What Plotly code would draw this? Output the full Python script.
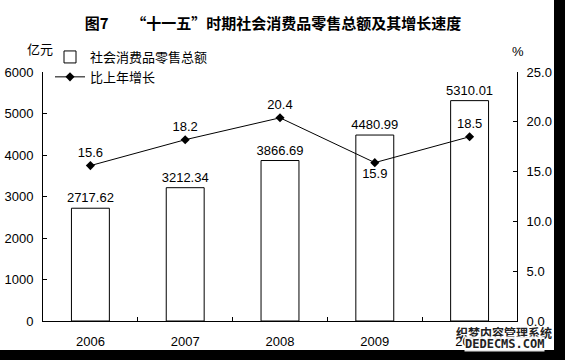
import plotly.graph_objects as go

years = ["2006", "2007", "2008", "2009", "2010"]
sales = [2717.62, 3212.34, 3866.69, 4480.99, 5310.01]
growth = [15.6, 18.2, 20.4, 15.9, 18.5]
growth_pos = ["top center", "top center", "top center", "bottom center", "top center"]

NUM_FONT = "Liberation Sans, Arial, sans-serif"
CJK_FONT = "Noto Sans CJK SC, sans-serif"

W, H = 565, 360
L, R, T, B = 43, 48, 72, 39
pw, ph = W - L - R, H - T - B

def px(x):
    return (x - L) / pw

def py(y):
    return (H - B - y) / ph

fig = go.Figure()
fig.add_trace(go.Bar(
    x=years, y=sales, name="社会消费品零售总额",
    marker=dict(color="white", line=dict(color="black", width=1)),
    width=0.4,
    text=[f"{v:.2f}" for v in sales], textposition="outside",
    textfont=dict(family=NUM_FONT, size=13, color="black"),
    cliponaxis=False, constraintext="none", textangle=0,
))
fig.add_trace(go.Scatter(
    x=years, y=growth, name="比上年增长", yaxis="y2",
    mode="lines+markers+text",
    line=dict(color="black", width=1),
    marker=dict(symbol="diamond", size=7, color="black"),
    text=[f"{v:.1f}" for v in growth], textposition=growth_pos,
    textfont=dict(family=NUM_FONT, size=13, color="black"),
    cliponaxis=False,
))

axis_common = dict(showline=True, linecolor="black", linewidth=1, ticks="inside",
                   ticklen=4, tickcolor="black", showgrid=False, zeroline=False,
                   tickfont=dict(family=NUM_FONT, size=13, color="black"))

fig.update_layout(
    width=W, height=H, margin=dict(l=L, r=R, t=T, b=B, autoexpand=False),
    paper_bgcolor="white", plot_bgcolor="white",
    title=dict(text="图7　　“十一五”时期社会消费品零售总额及其增长速度",
               font=dict(family=CJK_FONT, size=15, color="black", weight="bold"),
               x=px(273), xref="paper", xanchor="center",
               y=1 - 24 / H, yref="container", yanchor="middle"),
    xaxis=dict(type="category", tickson="boundaries", **axis_common,
               ticklabelstandoff=8),
    yaxis=dict(range=[0, 6000], dtick=1000, **axis_common, ticklabelstandoff=6),
    yaxis2=dict(range=[0, 25], dtick=5, tickformat=".1f", overlaying="y",
                side="right", **axis_common, ticklabelstandoff=6),
    showlegend=True,
    legend=dict(x=px(50), y=py(42), xanchor="left", yanchor="top",
                bgcolor="rgba(0,0,0,0)", borderwidth=0,
                font=dict(family=CJK_FONT, size=13, color="black"),
                itemwidth=30, tracegroupgap=0),
    annotations=[
        dict(text="亿元", x=px(40), y=py(49), xref="paper", yref="paper",
             xanchor="center", yanchor="middle", showarrow=False,
             font=dict(family=CJK_FONT, size=13, color="black")),
        dict(text="%", x=px(518), y=py(51), xref="paper", yref="paper",
             xanchor="center", yanchor="middle", showarrow=False,
             font=dict(family=NUM_FONT, size=13, color="black")),
        dict(text="<b>织梦内容管理系统</b>", x=px(504), y=py(332), xref="paper", yref="paper",
             xanchor="center", yanchor="middle", showarrow=False,
             font=dict(family=CJK_FONT, size=12, color="#222")),
        dict(text="<b>DEDECMS.COM</b>", x=px(504), y=py(344), xref="paper", yref="paper",
             xanchor="center", yanchor="middle", showarrow=False,
             bgcolor="rgba(255,255,255,0.9)", borderpad=0,
             font=dict(family="DejaVu Sans Mono, monospace", size=12, color="#222")),
    ],
    shapes=[
        dict(type="rect", xref="paper", yref="paper", x0=px(554), x1=px(600),
             y0=py(400), y1=py(-20), fillcolor="black", line=dict(width=0), layer="above"),
        dict(type="rect", xref="paper", yref="paper", x0=px(-20), x1=px(600),
             y0=py(400), y1=py(350), fillcolor="black", line=dict(width=0), layer="above"),
    ],
)

fig.write_html("out.html")
